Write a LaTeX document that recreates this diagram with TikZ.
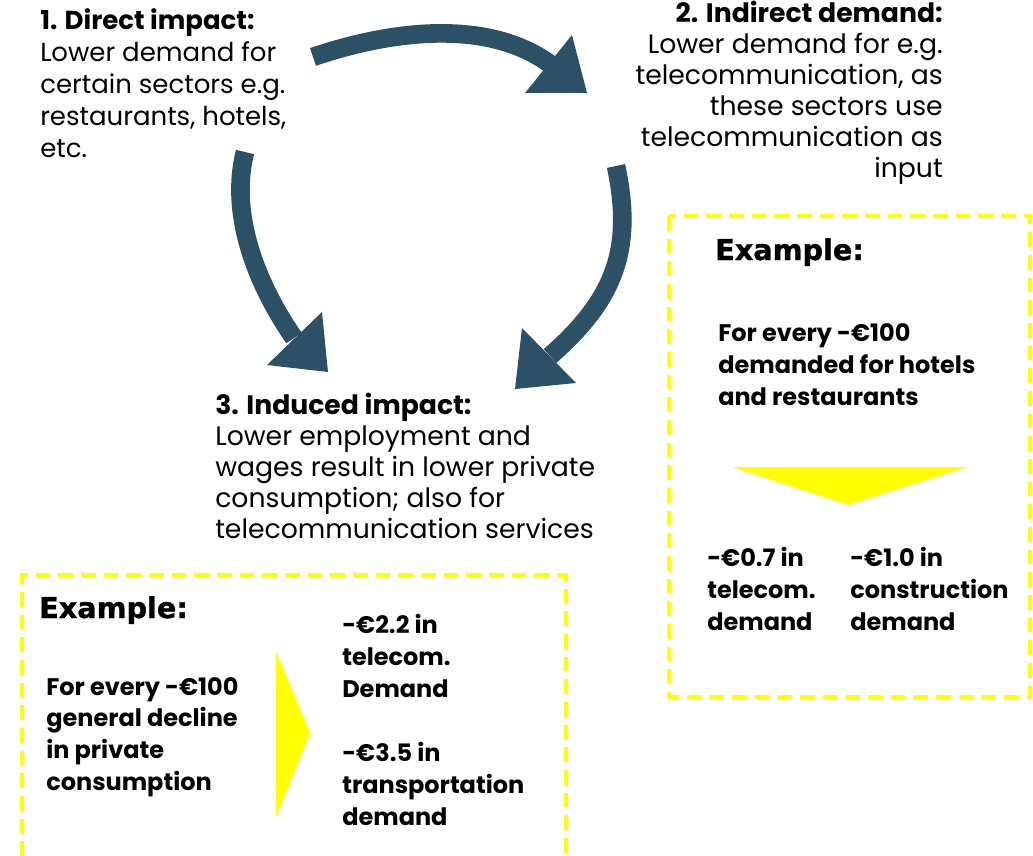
\documentclass[tikz,border=0pt]{standalone}
\usepackage{fontspec}
\usepackage{xcolor}
\setmainfont{Poppins}
\newfontfamily\heavyfont[BoldFeatures={FakeBold=1.2}]{DejaVu Sans}
\definecolor{arrowblue}{HTML}{2C5066}
\definecolor{boxyellow}{HTML}{FFFF00}

\begin{document}
\begin{tikzpicture}[x=0.75pt,y=-0.75pt,
    bigarrow/.style={arrowblue, line width=14pt},
    headtip/.style={fill=arrowblue},
    dashbox/.style={boxyellow, line width=3pt, dash pattern=on 11pt off 6pt},
    bodytxt/.style={inner sep=0pt, align=left, anchor=base west, font=\fontsize{20}{23.5}\selectfont},
    extitle/.style={inner sep=0pt, anchor=base west, font=\heavyfont\bfseries\fontsize{21.5}{24}\selectfont},
    extxt/.style={inner sep=0pt, align=left, anchor=base west, font=\bfseries\fontsize{18}{23.75}\selectfont}]

    \useasboundingbox (0,0) rectangle (1033,856);

    % the three impacts (anchored at the last baseline)
    \node[bodytxt, font=\fontsize{19.5}{24}\selectfont] (direct) at (40,157) {\textbf{1. Direct impact:}\\Lower demand for\\certain sectors e.g.\\restaurants, hotels,\\etc.};
    \node[bodytxt, align=right, anchor=base east, font=\fontsize{20}{23.25}\selectfont] (indirect) at (943,177) {\textbf{2. Indirect demand:}\\Lower demand for e.g.\\telecommunication, as\\these sectors use\\telecommunication as\\input};
    \node[bodytxt, font=\fontsize{20}{23.25}\selectfont] (induced) at (215,538) {\textbf{3. Induced impact:}\\Lower employment and\\wages result in lower private\\consumption; also for\\telecommunication services};

    % round arrows
    \draw[bigarrow] (313,57) .. controls (383,33) and (484,16) .. (550,64);
    \fill[headtip] (525,93) -- (587,93) -- (572,35) -- cycle;

    \draw[bigarrow] (245,152) .. controls (228,220) and (262,292) .. (294,338);
    \fill[headtip] (267,365) -- (328,372) -- (322,312) -- cycle;

    \draw[bigarrow] (616,166) .. controls (634,250) and (614,300) .. (550,356);
    \fill[headtip] (522,328) -- (515,389) -- (576,383) -- cycle;

    % example for indirect demand
    \draw[dashbox] (669,216) rectangle (1030,697);
    \node[extitle] (extitleR) at (715,260) {Example:};
    \node[extxt] (hotels) at (718,405) {For every -€100\\demanded for hotels\\and restaurants};
    \fill[boxyellow] (732,467) -- (967,467) -- (848,505) -- cycle;
    \node[extxt] (telecomR) at (707,630) {-€0.7 in\\telecom.\\demand};
    \node[extxt] (construction) at (850,630) {-€1.0 in\\construction\\demand};

    % example for induced impact
    \draw[dashbox] (22,856) -- (22,575) -- (566,575) -- (566,856);
    \node[extitle] (extitleL) at (39,618) {Example:};
    \node[extxt] (consumption) at (46,790) {For every -€100\\general decline\\in private\\consumption};
    \fill[boxyellow] (276,652) -- (276,817) -- (310,733) -- cycle;
    \node[extxt] (telecomL) at (342,697) {-€2.2 in\\telecom.\\Demand};
    \node[extxt] (transport) at (342,825) {-€3.5 in\\transportation\\demand};
\end{tikzpicture}
\end{document}
